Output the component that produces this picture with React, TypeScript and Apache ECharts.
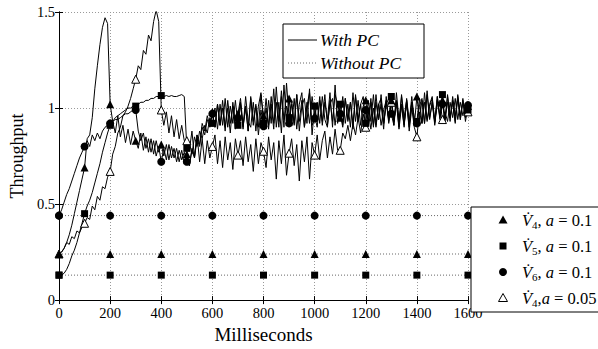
import React, { useEffect, useRef } from "react";
import * as echarts from "echarts";

// Sampling step of the "With PC" traces (ms)
const STEP_MS = 10;

// With PC — V4, a=0.1 (filled triangle)
const withPcV4a01 = [
  0.24, 0.25, 0.27, 0.30, 0.34, 0.39, 0.45, 0.51, 0.57, 0.63, 0.69,
  0.84, 0.86, 0.95, 1.10, 1.22, 1.33, 1.42, 1.47, 1.44, 1.02,
  0.93, 0.87, 0.96, 0.85, 0.91, 0.82, 0.89, 0.81, 0.88, 0.83,
  0.79, 0.87, 0.78, 0.85, 0.77, 0.84, 0.76, 0.83, 0.77, 0.81,
  0.75, 0.81, 0.73, 0.80, 0.74, 0.79, 0.72, 0.78, 0.71, 0.76,
  0.70, 0.79, 0.75, 0.86, 0.81, 0.92, 0.88, 0.96, 0.91, 0.98,
  0.90, 1.02, 0.91, 1.00, 0.88, 1.04, 0.92, 1.01, 0.89, 0.97,
  1.05, 0.91, 1.01, 0.88, 1.06, 0.93, 1.02, 0.90, 1.07, 0.96,
  0.89, 1.04, 0.92, 1.10, 0.90, 1.03, 0.87, 1.12, 0.94, 1.05,
  0.91, 1.05, 0.89, 1.02, 1.08, 0.90, 1.03, 0.92, 1.06, 0.96,
  0.90, 1.04, 0.93, 1.07, 0.91, 1.02, 1.05, 0.91, 1.03, 0.95,
  1.06, 0.92, 1.02, 0.90, 1.08, 0.93, 1.04, 0.91, 1.01, 1.04,
  0.92, 1.03, 0.90, 1.07, 0.94, 1.02, 0.89, 1.06, 0.93, 1.04,
  0.91, 1.08, 0.94, 1.02, 0.90, 1.05, 0.93, 1.03, 0.91, 1.06,
  0.94, 1.04, 0.92, 1.09, 0.95, 1.03, 0.91, 1.06, 0.94, 1.04,
  0.93, 1.07, 0.95, 1.03, 0.92, 1.06, 0.94, 1.05, 0.93, 1.01,
];

// With PC — V5, a=0.1 (filled square)
const withPcV5a01 = [
  0.13, 0.13, 0.14, 0.16, 0.19, 0.23, 0.26, 0.30, 0.35, 0.40, 0.45,
  0.49, 0.52, 0.56, 0.61, 0.66, 0.71, 0.77, 0.82, 0.87, 0.91,
  0.93, 0.95, 0.96, 0.97, 0.98, 0.99, 1.00, 1.00, 1.01, 1.01,
  1.02, 1.03, 1.03, 1.04, 1.04, 1.05, 1.05, 1.06, 1.06, 1.065,
  1.06, 1.065, 1.06, 1.065, 1.06, 1.06, 1.065, 1.07, 1.06, 0.79,
  0.82, 0.76, 0.85, 0.80, 0.88, 0.84, 0.91, 0.87, 0.95, 0.92,
  1.00, 0.89, 1.02, 0.91, 1.05, 0.90, 1.01, 0.92, 1.04, 0.91,
  1.02, 0.89, 1.06, 0.93, 0.90, 1.03, 0.88, 1.01, 1.08, 0.92,
  1.05, 0.91, 1.02, 0.89, 1.11, 0.93, 1.06, 0.90, 1.13, 0.95,
  1.04, 0.91, 1.07, 0.88, 1.01, 1.05, 0.92, 1.10, 0.86, 1.01,
  0.93, 1.06, 0.91, 1.03, 0.94, 1.08, 0.90, 1.12, 0.92, 1.02,
  0.91, 1.05, 0.94, 1.03, 0.89, 1.07, 0.93, 1.02, 1.06, 0.92,
  1.04, 0.93, 1.07, 0.91, 1.02, 1.05, 0.92, 1.03, 0.94, 1.06,
  0.93, 1.03, 0.90, 1.07, 0.95, 1.04, 0.92, 1.06, 0.94, 0.93,
  1.05, 0.92, 1.08, 0.94, 1.02, 1.06, 0.93, 1.04, 0.95, 1.07,
  0.94, 1.03, 0.93, 1.06, 0.96, 1.05, 0.94, 1.04, 0.97, 0.99,
];

// With PC — V6, a=0.1 (filled circle)
const withPcV6a01 = [
  0.44, 0.47, 0.51, 0.55, 0.58, 0.62, 0.66, 0.70, 0.74, 0.77, 0.80,
  0.83, 0.80, 0.86, 0.83, 0.87, 0.84, 0.88, 0.90, 0.91, 0.92,
  0.93, 0.94, 0.94, 0.95, 0.96, 0.97, 0.97, 0.98, 0.99, 0.99,
  0.88, 0.83, 0.87, 0.79, 0.84, 0.77, 0.83, 0.75, 0.80, 0.72,
  0.79, 0.73, 0.81, 0.74, 0.79, 0.72, 0.78, 0.73, 0.77, 0.72,
  0.70, 0.78, 0.74, 0.84, 0.80, 0.90, 0.86, 0.94, 0.90, 0.97,
  0.90, 1.02, 0.91, 1.04, 0.90, 1.00, 0.87, 1.03, 0.92, 0.945,
  1.03, 0.90, 1.00, 0.88, 1.05, 0.91, 1.01, 0.86, 0.99, 0.905,
  1.00, 0.89, 1.06, 0.92, 1.03, 0.90, 1.09, 0.94, 1.01, 0.92,
  1.02, 0.92, 1.07, 0.93, 1.04, 0.90, 1.01, 1.08, 0.91, 0.945,
  1.03, 0.92, 1.06, 0.94, 0.90, 1.04, 0.93, 1.07, 1.02, 0.97,
  0.90, 1.05, 0.93, 1.03, 0.92, 1.06, 0.94, 1.02, 0.91, 0.99,
  0.93, 1.05, 0.91, 1.03, 0.94, 1.07, 0.92, 1.02, 1.05, 0.97,
  0.91, 1.04, 0.93, 1.06, 0.92, 1.02, 0.90, 1.03, 0.95, 0.92,
  1.01, 1.05, 0.92, 1.07, 0.94, 1.03, 0.93, 1.06, 0.96, 1.02,
  0.94, 1.06, 0.95, 1.04, 0.93, 1.07, 0.96, 1.03, 0.95, 1.015,
];

// With PC — V4, a=0.05 (open triangle)
const withPcV4a005 = [
  0.24, 0.25, 0.27, 0.30, 0.29, 0.33, 0.32, 0.36, 0.35, 0.38, 0.40,
  0.43, 0.42, 0.49, 0.47, 0.54, 0.52, 0.59, 0.58, 0.64, 0.67,
  0.76, 0.80, 0.87, 0.90, 0.96, 0.98, 1.01, 1.05, 1.10, 1.15,
  1.22, 1.20, 1.30, 1.28, 1.38, 1.35, 1.45, 1.51, 1.45, 0.99,
  0.91, 0.98, 0.87, 0.96, 0.85, 0.94, 0.84, 0.91, 0.83, 0.83,
  0.78, 0.88, 0.74, 0.86, 0.72, 0.84, 0.71, 0.83, 0.74, 0.80,
  0.86, 0.71, 0.83, 0.69, 0.85, 0.73, 0.82, 0.68, 0.84, 0.755,
  0.83, 0.70, 0.85, 0.72, 0.81, 0.67, 0.84, 0.71, 0.82, 0.775,
  0.69, 0.85, 0.73, 0.82, 0.63, 0.83, 0.71, 0.86, 0.65, 0.765,
  0.84, 0.70, 0.81, 0.62, 0.83, 0.72, 0.85, 0.63, 0.82, 0.755,
  0.86, 0.73, 0.83, 0.88, 0.74, 0.85, 0.76, 0.89, 0.78, 0.78,
  0.87, 0.84, 0.91, 0.83, 0.92, 0.86, 0.95, 0.87, 0.97, 0.90,
  0.98, 0.89, 1.00, 0.90, 1.02, 0.91, 0.99, 1.04, 0.92, 1.03,
  0.93, 1.03, 0.89, 1.01, 0.91, 1.04, 0.88, 1.00, 0.90, 0.85,
  0.98, 0.92, 1.03, 0.93, 1.01, 1.05, 0.92, 1.02, 1.04, 0.94,
  0.98, 0.93, 1.03, 0.95, 1.05, 0.94, 1.03, 0.96, 1.02, 0.98,
];

// Without PC — constant throughputs, marked every 200 ms
const withoutPcTimes = [0, 200, 400, 600, 800, 1000, 1200, 1400, 1600];
const withoutPcV4 = [0.24, 0.24, 0.24, 0.24, 0.24, 0.24, 0.24, 0.24, 0.24];
const withoutPcV5 = [0.13, 0.13, 0.13, 0.13, 0.13, 0.13, 0.13, 0.13, 0.13];
const withoutPcV6 = [0.44, 0.44, 0.44, 0.44, 0.44, 0.44, 0.44, 0.44, 0.44];

const SERIF = "Liberation Serif";

const toPairs = (arr: number[]) => arr.map((v, i) => [i * STEP_MS, v]);
const zipPairs = (xs: number[], ys: number[]) => xs.map((x, i) => [x, ys[i]]);

export default function App() {
  const ref = useRef<HTMLDivElement>(null);

  useEffect(() => {
    if (!ref.current) return;
    const chart = echarts.init(ref.current, null, { renderer: "svg" });

    const markEvery = (shape: string) => (_v: any, p: any) =>
      p.dataIndex % 10 === 0 ? shape : "none";

    const withSeries = (
      name: string,
      arr: number[],
      shape: string,
      size: number,
      hollow = false
    ) => ({
      name,
      type: "line",
      data: toPairs(arr),
      symbol: markEvery(shape),
      symbolSize: size,
      showAllSymbol: true,
      lineStyle: { color: "#000", width: 1 },
      itemStyle: hollow
        ? { color: "#fff", borderColor: "#000", borderWidth: 1 }
        : { color: "#000", borderWidth: 0 },
      z: 3,
    });

    const withoutSeries = (name: string, ys: number[], shape: string, size: number) => ({
      name,
      type: "line",
      data: zipPairs(withoutPcTimes, ys),
      symbol: shape,
      symbolSize: size,
      showAllSymbol: true,
      lineStyle: { color: "#666", width: 1, type: [1, 2] },
      itemStyle: { color: "#000", borderWidth: 0 },
      z: 2,
    });

    const axisCommon = {
      axisLine: { show: true, lineStyle: { color: "#000", width: 1 } },
      axisTick: { show: true, inside: true, length: 4, lineStyle: { color: "#000" } },
    };

    const FS = 16.5;
    const rich = {
      v: { fontFamily: SERIF, fontStyle: "italic", fontSize: FS, color: "#000", lineHeight: 20 },
      s: { fontFamily: SERIF, fontSize: 11, color: "#000", lineHeight: 11, verticalAlign: "bottom" },
      n: { fontFamily: SERIF, fontSize: FS, color: "#000", lineHeight: 20 },
      i: { fontFamily: SERIF, fontStyle: "italic", fontSize: FS, color: "#000", lineHeight: 20 },
    };

    const legendRows = [
      { y: 220, text: "{v|V\u0307}{s|4}{n|, }{i|a}{n| = 0.1}" },
      { y: 246, text: "{v|V\u0307}{s|5}{n|, }{i|a}{n| = 0.1}" },
      { y: 272, text: "{v|V\u0307}{s|6}{n|, }{i|a}{n| = 0.1}" },
      { y: 298, text: "{v|V\u0307}{s|4}{n|,}{i|a}{n| = 0.05}" },
    ];
    const mx = 503;

    const option: any = {
      animation: false,
      backgroundColor: "#fff",
      textStyle: { fontFamily: SERIF },
      grid: { left: 52, right: 130, top: 12, bottom: 36 },
      xAxis: [
        {
          type: "value",
          min: 0,
          max: 1600,
          interval: 200,
          position: "bottom",
          ...axisCommon,
          axisLabel: {
            color: "#000", fontFamily: SERIF, fontSize: 14.5, margin: 5,
            formatter: (v: number) => String(v),
          },
          splitLine: { show: true, lineStyle: { color: "#999", type: [1, 2], width: 1 } },
          name: "Milliseconds",
          nameLocation: "middle",
          nameGap: 22,
          nameTextStyle: { color: "#000", fontFamily: SERIF, fontSize: 19 },
        },
        {
          type: "value",
          min: 0,
          max: 1600,
          interval: 200,
          position: "top",
          ...axisCommon,
          axisLabel: { show: false },
          splitLine: { show: false },
        },
      ],
      yAxis: [
        {
          type: "value",
          min: 0,
          max: 1.5,
          interval: 0.5,
          position: "left",
          ...axisCommon,
          axisLabel: {
            color: "#000", fontFamily: SERIF, fontSize: 14.5, margin: 4,
            formatter: (v: number) => String(v),
          },
          splitLine: { show: true, lineStyle: { color: "#999", type: [1, 2], width: 1 } },
          name: "Throughput",
          nameLocation: "middle",
          nameGap: 25,
          nameTextStyle: { color: "#000", fontFamily: SERIF, fontSize: 18 },
        },
        {
          type: "value",
          min: 0,
          max: 1.5,
          interval: 0.5,
          position: "right",
          ...axisCommon,
          axisLabel: { show: false },
          splitLine: { show: false },
        },
      ],
      series: [
        withoutSeries("Without PC V6", withoutPcV6, "circle", 8),
        withoutSeries("Without PC V4", withoutPcV4, "triangle", 8),
        withoutSeries("Without PC V5", withoutPcV5, "rect", 7),
        withSeries("V4, a=0.05", withPcV4a005, "triangle", 8, true),
        withSeries("V5, a=0.1", withPcV5a01, "rect", 7),
        withSeries("V6, a=0.1", withPcV6a01, "circle", 8),
        withSeries("V4, a=0.1", withPcV4a01, "triangle", 8),
      ],
      graphic: [
        // Line style legend
        {
          type: "rect",
          z: 100,
          shape: { x: 283, y: 24, width: 141, height: 54 },
          style: { fill: "#fff", stroke: "#000", lineWidth: 1 },
        },
        {
          type: "line",
          z: 101,
          shape: { x1: 288, y1: 40, x2: 317, y2: 40 },
          style: { stroke: "#000", lineWidth: 1 },
        },
        {
          type: "line",
          z: 101,
          shape: { x1: 288, y1: 63, x2: 317, y2: 63 },
          style: { stroke: "#666", lineWidth: 1, lineDash: [1, 2] },
        },
        {
          type: "text",
          z: 101,
          style: {
            x: 320, y: 40, text: "With PC", fill: "#000",
            fontFamily: SERIF, fontStyle: "italic", fontSize: 17.5,
            verticalAlign: "middle", align: "left",
          },
        },
        {
          type: "text",
          z: 101,
          style: {
            x: 320, y: 63, text: "Without PC", fill: "#000",
            fontFamily: SERIF, fontStyle: "italic", fontSize: 17.5,
            verticalAlign: "middle", align: "left",
          },
        },
        // Marker legend
        {
          type: "rect",
          z: 100,
          shape: { x: 471, y: 207, width: 140, height: 105 },
          style: { fill: "#fff", stroke: "#000", lineWidth: 1 },
        },
        {
          type: "polygon",
          z: 101,
          shape: { points: [[mx, legendRows[0].y - 4.5], [mx + 4.5, legendRows[0].y + 3.5], [mx - 4.5, legendRows[0].y + 3.5]] },
          style: { fill: "#000" },
        },
        {
          type: "rect",
          z: 101,
          shape: { x: mx - 3.5, y: legendRows[1].y - 3.5, width: 7, height: 7 },
          style: { fill: "#000" },
        },
        {
          type: "circle",
          z: 101,
          shape: { cx: mx, cy: legendRows[2].y, r: 4 },
          style: { fill: "#000" },
        },
        {
          type: "polygon",
          z: 101,
          shape: { points: [[mx, legendRows[3].y - 4.5], [mx + 4.5, legendRows[3].y + 3.5], [mx - 4.5, legendRows[3].y + 3.5]] },
          style: { fill: "#fff", stroke: "#000", lineWidth: 1 },
        },
        ...legendRows.map((r) => ({
          type: "text",
          z: 101,
          style: {
            x: 522, y: r.y, text: r.text, rich,
            verticalAlign: "middle", align: "left",
          },
        })),
      ],
    };

    chart.setOption(option);
    return () => chart.dispose();
  }, []);

  return (
    <div
      ref={ref}
      style={{ position: "absolute", left: 0, top: 0, width: 598, height: 349 }}
    />
  );
}
